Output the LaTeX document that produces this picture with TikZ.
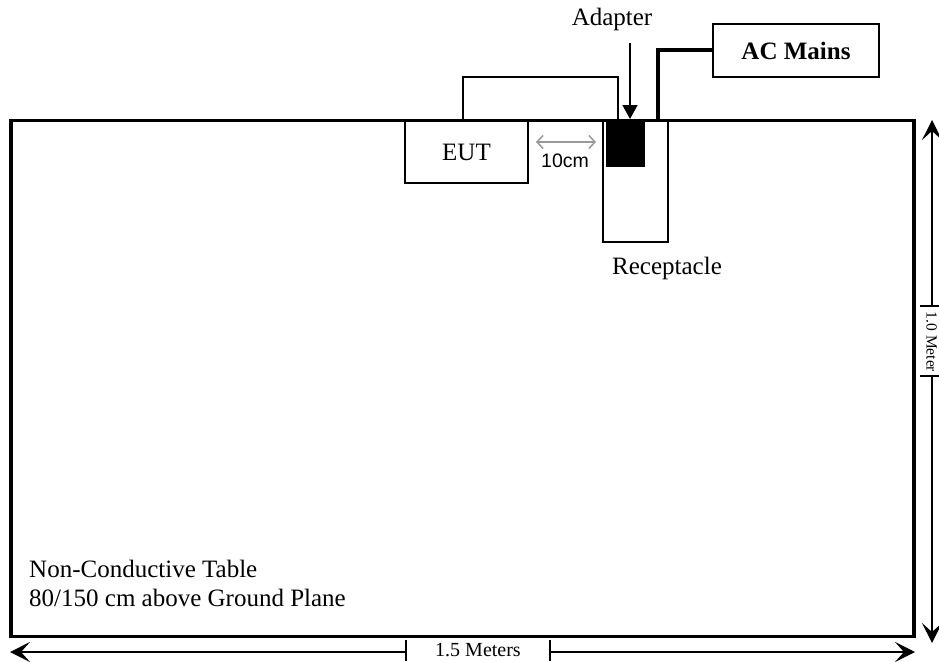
\documentclass[tikz,border=0pt]{standalone}
\usepackage{fontspec}
\setmainfont{Liberation Serif}
\newfontfamily\arialfont{Liberation Sans}
\usetikzlibrary{arrows.meta}
\begin{document}
\begin{tikzpicture}[x=1pt,y=-1pt,
  box/.style={draw, line width=1.8pt, inner sep=0pt, fill=white},
  lbl/.style={font=\fontsize{25}{29}\selectfont, inner sep=0pt, anchor=base},
  dimlbl/.style={font=\fontsize{20}{24}\selectfont, inner sep=0pt, anchor=base},
  dimline/.style={line width=1.6pt, -{Stealth[length=20pt,width=20pt,inset=9pt]}},
  dimbar/.style={line width=1.6pt},
  cable/.style={line width=1.7pt},
  powercord/.style={line width=4pt},
]
\useasboundingbox (0,0) rectangle (939,661);
\fill[white] (0,0) rectangle (939,661);

% table
\node[draw, line width=3.6pt, minimum width=903pt, minimum height=516pt, inner sep=0pt] (table) at (462.5,378.5) {};

% EUT, receptacle, adapter
\node[box, minimum width=123pt, minimum height=62pt, font=\fontsize{25}{29}\selectfont] (eut) at (466.5,152) {EUT};
\node[box, minimum width=65pt, minimum height=121pt] (recept) at (635.5,181.5) {};
\node[draw=black, fill=black, inner sep=0pt, minimum width=38pt, minimum height=45pt] (adapter) at (625,143.5) {};

% AC mains
\node[box, minimum width=166pt, minimum height=53pt, font=\fontsize{25}{29}\selectfont\bfseries] (acmains) at (796,50.5) {AC Mains};

% EUT cable
\coordinate (eutout) at (463,121);
\coordinate (recin) at (618,119);
\coordinate (loop) at (0,77);
\draw[cable] (eutout) -- (eutout |- loop) -- (recin |- loop) -- (recin);

% power cord
\coordinate (plug) at (658,121);
\draw[powercord] (plug) |- (acmains.west);

% labels
\node[lbl] (adlbl) at (612,26) {Adapter};
\coordinate (adtail) at (630,43);
\coordinate (adtip) at (630,119);
\draw[line width=1.5pt, -{Triangle[length=14pt,width=15pt]}] (adtail) -- (adtip);

\node[lbl] (reclbl) at (667,274) {Receptacle};

\node[font=\arialfont\fontsize{19.5}{22}\selectfont, anchor=base, inner sep=0pt] (tencm) at (565,167) {10cm};
\coordinate (g1) at (536,142);
\coordinate (g2) at (596,142);
\draw[line width=1.5pt, color=black!40, {Straight Barb[length=6pt,width=13pt]}-{Straight Barb[length=6pt,width=13pt]}] (g1) -- (g2);

\node[lbl, anchor=base west] (tbl1) at (29,577) {Non-Conductive Table};
\node[lbl, anchor=base west] (tbl2) at (29,606) {80/150 cm above Ground Plane};

% horizontal dimension
\coordinate (hL) at (10,652);
\coordinate (hR) at (915,652);
\coordinate (hb1) at (406,652);
\coordinate (hb2) at (550,652);
\coordinate (hb1t) at (406,640);
\coordinate (hb1b) at (406,661);
\coordinate (hb2t) at (550,640);
\coordinate (hb2b) at (550,661);
\draw[dimline] (hb1) -- (hL);
\draw[dimline] (hb2) -- (hR);
\draw[dimbar] (hb1t) -- (hb1b);
\draw[dimbar] (hb2t) -- (hb2b);
\node[dimlbl] (hlbl) at (478,656) {1.5 Meters};

% vertical dimension
\coordinate (vT) at (932,120);
\coordinate (vB) at (932,643);
\coordinate (vb1) at (932,306);
\coordinate (vb2) at (932,376);
\coordinate (vb1l) at (920,306);
\coordinate (vb1r) at (940,306);
\coordinate (vb2l) at (920,376);
\coordinate (vb2r) at (940,376);
\draw[dimline] (vb1) -- (vT);
\draw[dimline] (vb2) -- (vB);
\draw[dimbar] (vb1l) -- (vb1r);
\draw[dimbar] (vb2l) -- (vb2r);
\node[rotate=-90, anchor=base, inner sep=0pt, font=\fontsize{15.5}{19}\selectfont] (vlbl) at (926.5,342) {1.0 Meter};
\end{tikzpicture}
\end{document}
